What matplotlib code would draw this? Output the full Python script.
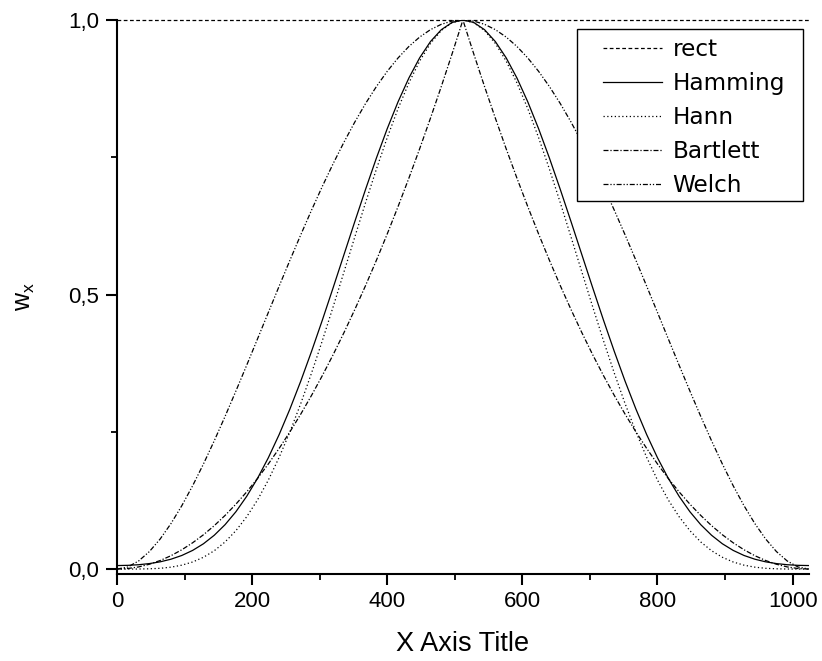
import matplotlib.pyplot as plt
from matplotlib.patches import Rectangle
from matplotlib.ticker import MultipleLocator, FuncFormatter

plt.rcParams['font.family'] = ['Liberation Sans', 'DejaVu Sans']

# sample positions for the left half incl. the centre (curves are symmetric about 512)
x_half = [0, 16, 32, 48, 64, 80, 96, 112, 128, 144, 160, 176, 192, 208, 224, 240, 256,
          272, 288, 304, 320, 336, 352, 368, 384, 400, 416, 432, 448, 464, 480, 496, 512]

rect_half = [1.0] * len(x_half)
hamming_half = [0.0064, 0.0068, 0.0079, 0.0100, 0.0132, 0.0180, 0.0248, 0.0340, 0.0461,
                0.0616, 0.0809, 0.1044, 0.1325, 0.1652, 0.2027, 0.2449, 0.2916,
                0.3423, 0.3966, 0.4536, 0.5127, 0.5728, 0.6329, 0.6919, 0.7487,
                0.8021, 0.8510, 0.8943, 0.9312, 0.9608, 0.9824, 0.9956, 1.0]
hann_half = [0.0, 0.0000, 0.0001, 0.0005, 0.0014, 0.0035, 0.0071, 0.0129, 0.0215,
             0.0334, 0.0494, 0.0699, 0.0953, 0.1259, 0.1620, 0.2034, 0.25,
             0.3014, 0.3571, 0.4162, 0.4780, 0.5413, 0.6049, 0.6678, 0.7286,
             0.7859, 0.8386, 0.8854, 0.9253, 0.9574, 0.9809, 0.9952, 1.0]
bartlett_half = [0.0, 0.0010, 0.0039, 0.0088, 0.0156, 0.0244, 0.0352, 0.0479, 0.0625,
                 0.0791, 0.0977, 0.1182, 0.1406, 0.1650, 0.1914, 0.2197, 0.25,
                 0.2822, 0.3164, 0.3525, 0.3906, 0.4307, 0.4727, 0.5166, 0.5625,
                 0.6104, 0.6602, 0.7119, 0.7656, 0.8213, 0.8789, 0.9385, 1.0]
welch_half = [0.0, 0.0038, 0.0147, 0.0319, 0.0549, 0.0830, 0.1155, 0.1518, 0.1914,
              0.2337, 0.2781, 0.3242, 0.3713, 0.4192, 0.4673, 0.5152, 0.5625,
              0.6088, 0.6538, 0.6972, 0.7385, 0.7776, 0.8142, 0.8481, 0.8789,
              0.9066, 0.9309, 0.9518, 0.9690, 0.9825, 0.9922, 0.9981, 1.0]


def mirror(xs, ys):
    # full curve 0..1024 from the left half
    x = list(xs) + [1024 - v for v in reversed(xs[:-1])]
    y = list(ys) + list(reversed(ys[:-1]))
    return x, y


fig = plt.figure(figsize=(8.22, 6.61), dpi=100)
ax = fig.add_axes([0.1423, 0.1316, 0.8417, 0.8381])

lw = 0.9
x, y = mirror(x_half, rect_half)
ax.plot(x, y, color='black', lw=lw, ls=(0, (3, 2)), label='rect', clip_on=False)
x, y = mirror(x_half, hamming_half)
ax.plot(x, y, color='black', lw=lw, ls='-', label='Hamming')
x, y = mirror(x_half, hann_half)
ax.plot(x, y, color='black', lw=lw, ls=(0, (1, 2)), label='Hann')
x, y = mirror(x_half, bartlett_half)
ax.plot(x, y, color='black', lw=lw, ls=(0, (4, 1.5, 1, 1.5)), label='Bartlett')
x, y = mirror(x_half, welch_half)
ax.plot(x, y, color='black', lw=lw, ls=(0, (4, 1.5, 1, 1.5, 1, 1.5)), label='Welch')

ax.set_xlim(0, 1024)
ax.set_ylim(-0.009, 1.0)
ax.spines['top'].set_visible(False)
ax.spines['right'].set_visible(False)
for s in ['left', 'bottom']:
    ax.spines[s].set_linewidth(1.5)

ax.xaxis.set_major_locator(MultipleLocator(200))
ax.xaxis.set_minor_locator(MultipleLocator(100))
ax.yaxis.set_major_locator(MultipleLocator(0.5))
ax.yaxis.set_minor_locator(MultipleLocator(0.25))
ax.yaxis.set_major_formatter(FuncFormatter(lambda v, p: ('%.1f' % v).replace('.', ',')))
ax.tick_params(which='major', direction='out', length=8, width=1.5, labelsize=16, pad=4)
ax.tick_params(axis='y', which='major', pad=5)
ax.tick_params(which='minor', direction='out', length=4.3, width=1.3)

ax.set_xlabel('X Axis Title', fontsize=19.5, labelpad=14)
ax.set_ylabel(r'w$_\mathregular{x}$', fontsize=18, labelpad=22)

# legend entries without frame, the white box is drawn separately to get Origin's padding
leg = ax.legend(loc='upper left', bbox_to_anchor=(0.7336, 0.9418),
                bbox_transform=fig.transFigure, borderaxespad=0, borderpad=0,
                prop={'family': 'DejaVu Sans', 'size': 16.7}, frameon=False,
                handlelength=2.53, handletextpad=0.47, labelspacing=0.47)
leg.set_zorder(6)
box = Rectangle((0.702, 0.6959), 0.2749, 0.2602, transform=fig.transFigure,
                facecolor='white', edgecolor='black', lw=1.0, zorder=4)
ax.add_artist(box)

fig.savefig('out.png', dpi=100)
